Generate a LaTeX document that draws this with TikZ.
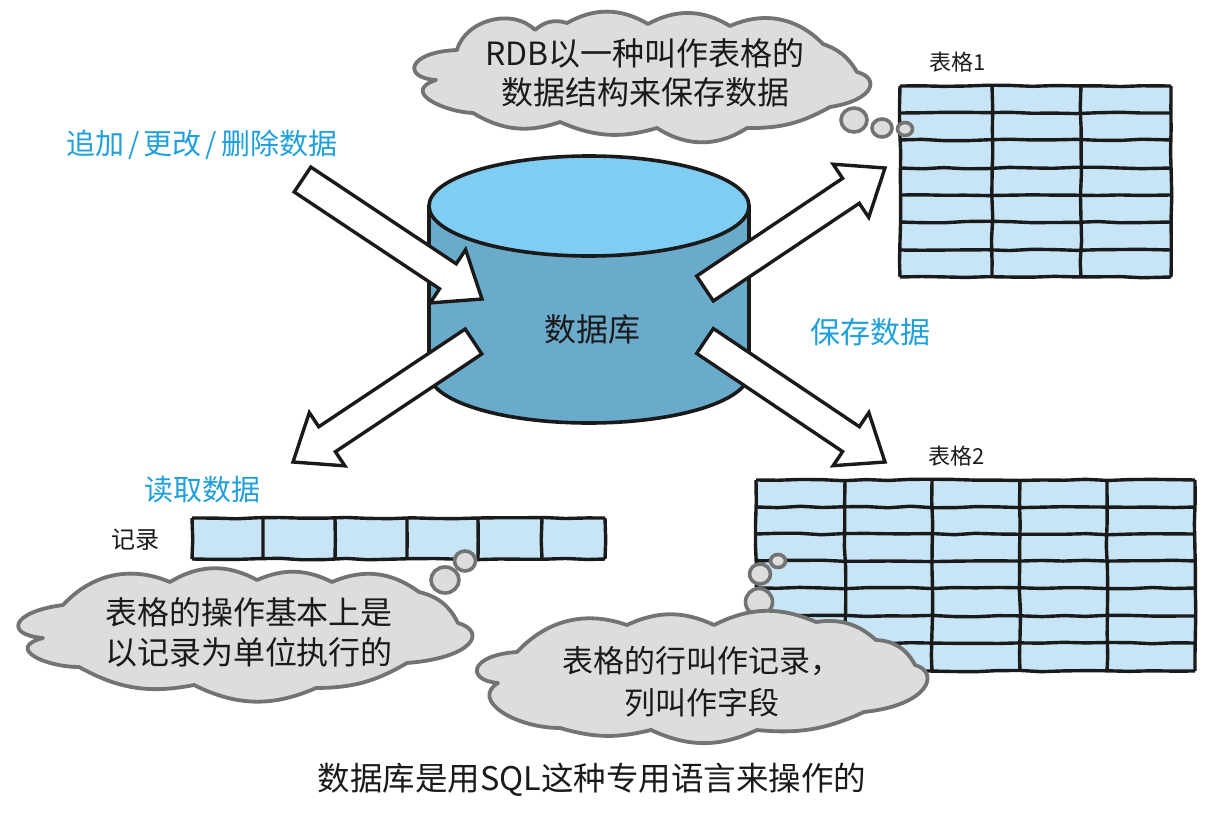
\documentclass[tikz,border=0pt]{standalone}
\usepackage{fontspec}
\setmainfont{Noto Sans CJK SC}
\usetikzlibrary{positioning,calc,shapes.geometric,decorations.pathmorphing}
\definecolor{dbtop}{HTML}{7FCDF3}
\definecolor{dbside}{HTML}{6AAACB}
\definecolor{cellblue}{HTML}{C7E5F7}
\definecolor{cloudgray}{HTML}{DCDDDD}
\definecolor{cloudline}{HTML}{737373}
\definecolor{inkblue}{HTML}{1FA0DC}
\definecolor{ink}{HTML}{1B1A1A}
\pgfmathsetseed{7}

\begin{document}
\begin{tikzpicture}[
x=1pt, y=-1pt,
dbpart/.style={draw=ink, line width=3.6pt, line join=round},
dbcap/.style={ellipse, dbpart, fill=dbtop, minimum width=320pt, minimum height=100pt, inner sep=0pt},
blockarrow/.style={draw=ink, fill=white, line width=3.4pt, line join=miter, to path={
 -- ($(\tikztostart)!15pt!90:(\tikztotarget)$)
 -- ($(\tikztotarget)!41pt!(\tikztostart)!15pt!90:(\tikztotarget)$)
 -- ($(\tikztotarget)!41pt!(\tikztostart)!32pt!90:(\tikztotarget)$)
 -- (\tikztotarget)
 -- ($(\tikztotarget)!41pt!(\tikztostart)!32pt!-90:(\tikztotarget)$)
 -- ($(\tikztotarget)!41pt!(\tikztostart)!15pt!-90:(\tikztotarget)$)
 -- ($(\tikztostart)!15pt!-90:(\tikztotarget)$)
 -- cycle}},
tablebox/.style={rectangle, fill=cellblue, inner sep=0pt},
tableline/.style={draw=ink, line width=3.4pt, line cap=square, decorate, decoration={random steps, segment length=22pt, amplitude=0.8pt}},
cloudshape/.style={draw=cloudline, fill=cloudgray, line width=3.8pt, line join=round},
bubble/.style={ellipse, draw=cloudline, fill=cloudgray, line width=3.6pt, inner sep=0pt},
cloudtext/.style={text=ink, align=center, font=\fontsize{32}{39}\selectfont},
bluetext/.style={text=inkblue, font=\fontsize{#1}{#1}\selectfont},
inktext/.style={text=ink, font=\fontsize{#1}{#1}\selectfont}
]
\useasboundingbox (0,0) rectangle (1219,814);

\draw[dbpart, fill=dbside] (429,205) -- (429,373) arc[start angle=180, end angle=360, x radius=160pt, y radius=50pt] -- (749,205) -- cycle;
\node[dbcap](db_cap) at (589,206){};
\node[inktext=32](db_label) at (592,329){数据库};

\coordinate (add_from) at (302.5,179.5);
\coordinate (add_to) at (482,299);
\coordinate (read_from) at (473.5,341.5);
\coordinate (read_to) at (293,462);
\coordinate (save_a_from) at (705,288.5);
\coordinate (save_a_to) at (885,168);
\coordinate (save_b_from) at (705,341);
\coordinate (save_b_to) at (885,462);

\draw[blockarrow] (add_from) to (add_to);
\draw[blockarrow] (read_from) to (read_to);
\draw[blockarrow] (save_a_from) to (save_a_to);
\draw[blockarrow] (save_b_from) to (save_b_to);

\node[tablebox, minimum width=271pt, minimum height=191pt](table_a) at (1035.5,181.5){};
\foreach \y in {86,113,140,168,195,222,250,277}
  \draw[tableline] (900,\y) -- (1171,\y);
\foreach \x in {900,992,1081,1171}
  \draw[tableline] (\x,86) -- (\x,277);

\node[tablebox, minimum width=439pt, minimum height=191pt](table_b) at (975.5,575.5){};
\foreach \y in {480,507,534,561,588,616,643,671}
  \draw[tableline] (756,\y) -- (1195,\y);
\foreach \x in {756,845,932,1020,1107,1195}
  \draw[tableline] (\x,480) -- (\x,671);

\node[tablebox, minimum width=413pt, minimum height=41pt](record_row) at (398.5,538.5){};
\foreach \y in {518,559}
  \draw[tableline] (192,\y) -- (605,\y);
\foreach \x in {192,263,335,407,478,542,605}
  \draw[tableline] (\x,518) -- (\x,559);

\node[bubble, minimum width=26pt, minimum height=24pt](bubble_a1) at (854,120){};
\node[bubble, minimum width=20pt, minimum height=18pt](bubble_a2) at (882,128){};
\node[bubble, minimum width=15pt, minimum height=13pt](bubble_a3) at (905,129){};
\node[bubble, minimum width=28pt, minimum height=26pt](bubble_b1) at (445,580){};
\node[bubble, minimum width=21pt, minimum height=20pt](bubble_b2) at (465,561){};
\node[bubble, minimum width=27pt, minimum height=27pt](bubble_c1) at (759,602){};
\node[bubble, minimum width=21pt, minimum height=20pt](bubble_c2) at (760,574){};
\node[bubble, minimum width=15pt, minimum height=13pt](bubble_c3) at (778,561){};

\draw[cloudshape] (436,80) .. controls (402,78) and (407,52) .. (457,50) to[bend left=60] (535,30)
  to[bend left=30] (567,23) to[bend left=30] (648,24) to[bend left=30] (730,26)
  to[bend left=35] (823,44) to[bend left=20] (857,72) .. controls (880,78) and (875,100) .. (830,107)
  to[bend left=15] (747,128) to[bend left=33] (657,128) to[bend left=20] (560,122)
  to[bend left=25] (473,113) .. controls (445,112) and (400,92) .. (436,80) -- cycle;
\node[cloudtext](cloud_a_text) at (645,73){RDB以一种叫作表格的\\数据结构来保存数据};

\draw[cloudshape] (43,638) .. controls (5,635) and (10,612) .. (63,605) to[bend left=35] (170,582)
  to[bend left=30] (257,580) to[bend left=25] (332,582) to[bend left=30] (419,592)
  to[bend left=25] (458,623) .. controls (488,632) and (472,658) .. (407,663) to[bend left=15] (316,688)
  to[bend left=25] (194,685) to[bend left=20] (79,667) .. controls (45,667) and (5,648) .. (43,638) -- cycle;
\node[cloudtext, font=\fontsize{32}{40}\selectfont](cloud_b_text) at (249,632){表格的操作基本上是\\以记录为单位执行的};

\draw[cloudshape] (498,683) .. controls (465,680) and (470,655) .. (517,652) to[bend left=33] (627,625)
  to[bend left=25] (714,625) to[bend left=25] (816,622) to[bend left=25] (876,640)
  to[bend left=30] (915,665) .. controls (940,672) and (930,705) .. (864,712) to[bend left=15] (757,730)
  to[bend left=25] (651,730) to[bend left=15] (560,728) .. controls (515,728) and (470,700) .. (498,683) -- cycle;
\node[cloudtext, font=\fontsize{31}{42}\selectfont](cloud_c_text) at (702,682){表格的行叫作记录，\\列叫作字段};

\node[bluetext=29](add_label) at (202,145){追加\kern4pt/\kern4pt更改\kern4pt/\kern4pt删除数据};
\node[bluetext=30](save_label) at (870,332){保存数据};
\node[bluetext=29](read_label) at (202,490){读取数据};
\node[inktext=22](table_a_label) at (958,62){表格1};
\node[inktext=22](table_b_label) at (957,456){表格2};
\node[inktext=24](record_label) at (135,540){记录};
\node[inktext=32.5](caption) at (592,780){数据库是用SQL这种专用语言来操作的};
\end{tikzpicture}
\end{document}
